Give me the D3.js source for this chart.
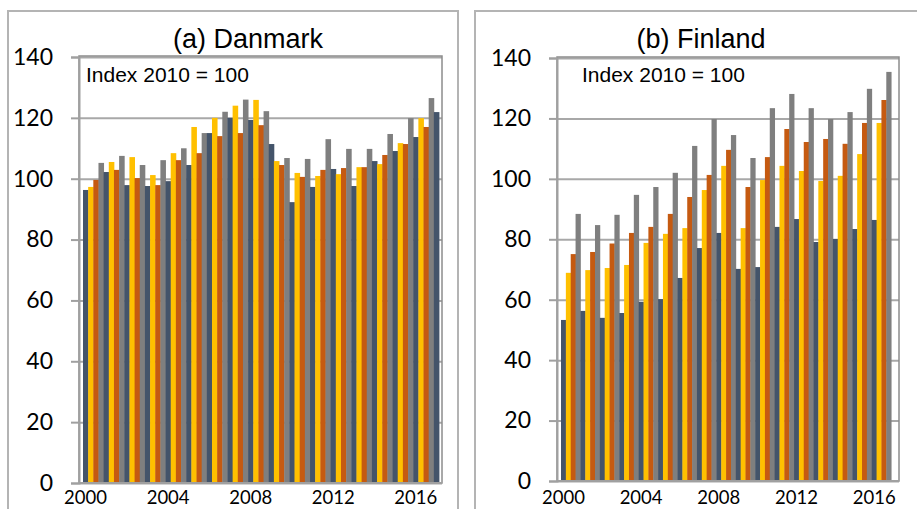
<!DOCTYPE html>
<html>
<head>
<meta charset="utf-8">
<script src="https://cdn.jsdelivr.net/npm/d3@7/dist/d3.min.js"></script>
<style>
  body { margin: 0; background: #fff; }
  svg { display: block; }
</style>
</head>
<body>
<div class="root"></div>
<script>
// quarterly index, 2010 = 100, 2000 K1 .. 2017 K1
var quarters = ["K1", "K2", "K3", "K4"];
var years = [2000, 2001, 2002, 2003, 2004, 2005, 2006, 2007, 2008,
             2009, 2010, 2011, 2012, 2013, 2014, 2015, 2016, 2017];
var yearLabels = [2000, 2004, 2008, 2012, 2016];
var yTicks = [0, 20, 40, 60, 80, 100, 120, 140];
var quarterColors = ["#44546A", "#FFC000", "#C55A11", "#7F7F7F"];

var danmark = [
  96.3, 97.3, 99.6, 105.2,
  102.2, 105.5, 102.9, 107.5,
  97.9, 107.1, 100.2, 104.5,
  97.6, 101.2, 97.9, 106.1,
  99.2, 108.4, 106.1, 110.0,
  104.5, 117.0, 108.4, 115.0,
  115.0, 120.0, 114.0, 122.0,
  120.0, 124.0, 115.0, 126.0,
  119.3, 125.9, 117.6, 122.2,
  111.4, 105.8, 104.5, 106.8,
  92.3, 101.9, 100.6, 106.5,
  97.3, 100.9, 102.9, 113.0,
  103.2, 101.5, 103.5, 109.8,
  97.6, 103.8, 103.8, 109.8,
  105.8, 104.8, 107.8, 114.7,
  109.1, 111.7, 111.4, 119.9,
  113.7, 119.9, 117.0, 126.5,
  121.9
];

var finland = [
  53.3, 68.9, 75.1, 88.4,
  56.3, 69.8, 75.8, 84.7,
  54.0, 70.5, 78.6, 88.1,
  55.6, 71.5, 82.1, 94.7,
  59.3, 78.8, 84.1, 97.3,
  60.2, 81.8, 88.4, 102.0,
  67.2, 83.7, 94.0, 110.9,
  77.1, 96.3, 101.3, 119.8,
  82.1, 104.3, 109.6, 114.5,
  70.2, 83.7, 97.3, 106.9,
  70.8, 99.6, 107.2, 123.4,
  84.1, 104.3, 116.5, 128.1,
  86.7, 102.6, 112.2, 123.4,
  79.1, 99.3, 113.2, 119.8,
  80.1, 101.0, 111.6, 122.1,
  83.4, 108.2, 118.5, 129.8,
  86.4, 118.5, 126.1, 135.4
];

// slots: every quarter from 2000 K1 to 2017 K1
var slots = [];
years.forEach(function (y) {
  quarters.forEach(function (q, qi) { slots.push({year: y, q: qi, key: y + "-" + q}); });
});
slots = slots.slice(0, danmark.length);

var panels = [
  {title: "(a) Danmark", values: danmark, frameX: 8, frameW: 450,
   l: 79, t: 57, r: 442, b: 483, titleX: 248, noteX: 86},
  {title: "(b) Finland", values: finland, frameX: 475, frameW: 460,
   l: 557, t: 58, r: 899, b: 481, titleX: 701, noteX: 582}
];

var width = 917, height = 509;

var svg = d3.select('.root')
            .append('svg')
            .attr("width", width)
            .attr("height", height);

panels.forEach(function (p) {
  var g = svg.append('g');

  // outer chart frame
  g.append('rect')
   .attr("x", p.frameX).attr("y", 11)
   .attr("width", p.frameW).attr("height", 520)
   .attr("fill", "#fff")
   .attr("stroke", "#B4B4B4")
   .attr("stroke-width", 2);

  var x = d3.scaleBand()
            .domain(slots.map(function (s) { return s.key; }))
            .range([p.l + 4, p.r - 3])
            .paddingInner(0);

  var y = d3.scaleLinear()
            .domain([0, 140])
            .range([p.b, p.t]);

  // gridlines
  var grid = g.append('g')
              .attr("transform", "translate(" + p.l + ",0)")
              .call(d3.axisLeft(y).tickValues(yTicks).tickSize(-(p.r - p.l)).tickFormat(""));
  grid.select(".domain").remove();
  grid.selectAll("line").attr("stroke", "#A8A8A8").attr("stroke-width", 2);

  // bars
  g.append('g')
   .selectAll('rect')
   .data(p.values)
   .enter()
   .append('rect')
   .attr("x", function (d, i) { return x(slots[i].key); })
   .attr("y", function (d) { return y(d); })
   .attr("width", x.bandwidth() + 0.4)
   .attr("height", function (d) { return y(0) - y(d); })
   .attr("fill", function (d, i) { return quarterColors[slots[i].q]; });

  // plot area border
  g.append('rect')
   .attr("x", p.l).attr("y", p.t - 1)
   .attr("width", p.r - p.l).attr("height", p.b - p.t + 1)
   .attr("fill", "none")
   .attr("stroke", "#8C8C8C")
   .attr("stroke-width", 1.5);

  // y axis with outside ticks
  var yAxis = g.append('g')
               .attr("transform", "translate(" + p.l + ",0)")
               .call(d3.axisLeft(y).tickValues(yTicks).tickSize(8).tickPadding(18));
  yAxis.select(".domain").attr("stroke", "#A0A0A0").attr("stroke-width", 2);
  yAxis.selectAll("line").attr("stroke", "#A0A0A0").attr("stroke-width", 2);
  yAxis.selectAll("text")
       .attr("fill", "#000")
       .style("font-family", "Lato, 'Open Sans', sans-serif")
       .style("font-size", "23px");

  // bottom axis line
  g.append('line')
   .attr("x1", p.l).attr("x2", p.r)
   .attr("y1", y(0)).attr("y2", y(0))
   .attr("stroke", "#A0A0A0").attr("stroke-width", 2);

  // year labels at the first quarter of each labelled year
  g.append('g')
   .selectAll('text')
   .data(yearLabels)
   .enter()
   .append('text')
   .attr("x", function (d) { return x(d + "-K1") + x.bandwidth() / 2; })
   .attr("y", 504)
   .attr("text-anchor", "middle")
   .style("font-family", "Lato, 'Open Sans', sans-serif")
   .style("font-size", "18.5px")
   .text(function (d) { return d; });

  // title
  g.append('text')
   .attr("x", p.titleX).attr("y", 48)
   .attr("text-anchor", "middle")
   .style("font-family", "'Liberation Sans', Arial, sans-serif")
   .style("font-size", "27px")
   .text(p.title);

  // note
  g.append('text')
   .attr("x", p.noteX).attr("y", 82)
   .style("font-family", "'Liberation Sans', Arial, sans-serif")
   .style("font-size", "21px")
   .text("Index 2010 = 100");
});
</script>
</body>
</html>
